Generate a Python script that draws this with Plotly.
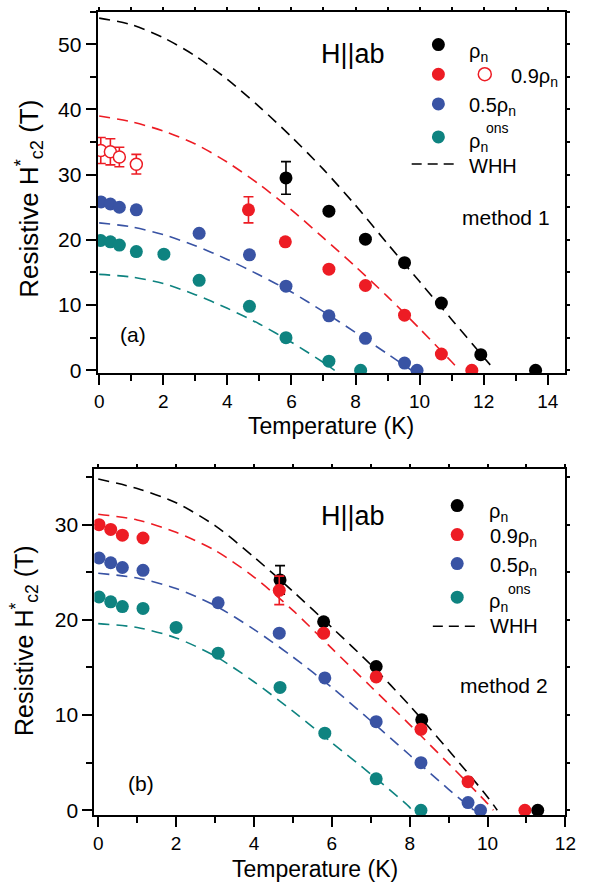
import plotly.graph_objects as go

# ---------------- data: panel (a), method 1 ----------------
T_rho_a = [5.83, 7.17, 8.31, 9.53, 10.68, 11.91, 13.62]
H_rho_a = [29.5, 24.4, 20.1, 16.5, 10.3, 2.4, 0.0]
E_rho_a = [2.5, None, None, None, None, None, None]

T_r09_a = [4.66, 5.81, 7.17, 8.31, 9.53, 10.68, 11.63]
H_r09_a = [24.6, 19.7, 15.5, 13.0, 8.45, 2.5, 0.0]
E_r09_a = [2.0, None, None, None, None, None, None]

T_r09open_a = [0.05, 0.35, 0.63, 1.16]
H_r09open_a = [33.7, 33.5, 32.7, 31.6]
E_r09open_a = [2.0, 2.0, 1.5, 1.5]

T_r05_a = [0.06, 0.35, 0.63, 1.16, 3.12, 4.69, 5.83, 7.17, 8.31, 9.53, 9.92]
H_r05_a = [25.8, 25.5, 25.0, 24.6, 21.0, 17.7, 12.9, 8.35, 4.9, 1.1, 0.0]

T_ons_a = [0.05, 0.35, 0.63, 1.16, 2.02, 3.12, 4.69, 5.83, 7.17, 8.16]
H_ons_a = [19.9, 19.7, 19.2, 18.2, 17.8, 13.8, 9.8, 5.0, 1.4, 0.0]

# WHH curves, panel (a)
T_whh_rho_a = [0, 1, 2, 3, 4, 5, 6, 7, 8, 9, 10, 11, 12, 12.35]
H_whh_rho_a = [54.0, 53.0, 51.0, 48.2, 44.6, 40.4, 35.8, 30.8, 25.3, 19.4, 13.6, 7.8, 2.0, 0.0]
T_whh_r09_a = [0, 1, 2, 3, 4, 5, 6, 7, 8, 9, 10, 11, 11.25]
H_whh_r09_a = [39.0, 38.1, 36.7, 34.7, 31.9, 28.5, 24.6, 20.3, 15.9, 11.3, 6.4, 1.3, 0.0]
T_whh_r05_a = [0, 1, 2, 3, 4, 5, 6, 7, 8, 9, 9.75]
H_whh_r05_a = [22.6, 22.0, 20.8, 19.1, 17.0, 14.6, 12.0, 9.0, 5.8, 2.5, 0.0]
T_whh_ons_a = [0, 1, 2, 3, 4, 5, 6, 7, 7.35]
H_whh_ons_a = [14.7, 14.3, 13.3, 11.6, 9.5, 7.1, 4.3, 1.2, 0.0]

# ---------------- data: panel (b), method 2 ----------------
T_rho_b = [4.67, 5.79, 7.14, 8.31, 11.29]
H_rho_b = [24.2, 19.8, 15.1, 9.5, 0.0]
E_rho_b = [1.5, None, None, None, None]

T_r09_b = [0.02, 0.32, 0.62, 1.15, 4.65, 5.79, 7.14, 8.29, 9.5, 10.96]
H_r09_b = [30.0, 29.5, 28.9, 28.6, 23.1, 18.6, 14.0, 8.5, 3.0, 0.0]
E_r09_b = [None, None, None, None, 1.5, None, None, None, None, None]

T_r05_b = [0.02, 0.32, 0.62, 1.15, 3.08, 4.65, 5.82, 7.14, 8.29, 9.5, 9.82]
H_r05_b = [26.5, 26.0, 25.5, 25.2, 21.8, 18.6, 13.9, 9.3, 5.0, 0.8, 0.0]

T_ons_b = [0.02, 0.32, 0.62, 1.15, 2.0, 3.08, 4.67, 5.82, 7.14, 8.29]
H_ons_b = [22.4, 21.9, 21.4, 21.2, 19.2, 16.5, 12.9, 8.1, 3.3, 0.0]

# WHH curves, panel (b)
T_whh_rho_b = [0, 1, 2, 3, 4, 5, 6, 7, 8, 9, 10, 10.25]
H_whh_rho_b = [34.8, 33.8, 32.3, 29.9, 26.6, 23.0, 19.2, 15.3, 11.0, 6.3, 1.4, 0.0]
T_whh_r09_b = [0, 1, 2, 3, 4, 5, 6, 7, 8, 9, 10, 10.15]
H_whh_r09_b = [31.1, 30.5, 29.2, 27.3, 24.5, 21.0, 17.0, 13.0, 9.0, 4.9, 0.7, 0.0]
T_whh_r05_b = [0, 1, 2, 3, 4, 5, 6, 7, 8, 9, 9.65]
H_whh_r05_b = [24.9, 24.4, 23.3, 21.5, 19.0, 16.1, 12.9, 9.4, 5.8, 2.2, 0.0]
T_whh_ons_b = [0, 1, 2, 3, 4, 5, 6, 7, 8, 8.05]
H_whh_ons_b = [19.6, 19.2, 18.1, 16.2, 13.5, 10.4, 7.1, 3.8, 0.3, 0.0]

# ---------------- styling ----------------
BLACK = "#000000"
RED = "#ED1C24"
BLUE = "#3953A4"
TEAL = "#0E8380"
FONT = "Liberation Sans, Arial, Helvetica, sans-serif"
MS = 13
W, HGT = 591, 891


def px(x):
    return x / W


def py(y):
    return 1 - y / HGT


fig = go.Figure()


def add_whh(T, H, color, xa, ya):
    fig.add_trace(go.Scatter(
        x=T, y=H, mode="lines", xaxis=xa, yaxis=ya,
        line=dict(color=color, width=1.6, dash="11px,7px", shape="spline", smoothing=0.8),
        showlegend=False, hoverinfo="skip"))


def add_pts(T, H, color, xa, ya, err=None, open_=False):
    marker = dict(size=MS, color=color, line=dict(width=0))
    if open_:
        marker = dict(size=MS - 1, color="white", line=dict(width=1.5, color=color))
    kw = {}
    if err is not None:
        kw["error_y"] = dict(type="data", array=err, visible=True, color=color,
                             thickness=1.6, width=5)
    fig.add_trace(go.Scatter(x=T, y=H, mode="markers", xaxis=xa, yaxis=ya,
                             marker=marker, showlegend=False, **kw))


# panel (a)
add_whh(T_whh_rho_a, H_whh_rho_a, BLACK, "x", "y")
add_whh(T_whh_r09_a, H_whh_r09_a, RED, "x", "y")
add_whh(T_whh_r05_a, H_whh_r05_a, BLUE, "x", "y")
add_whh(T_whh_ons_a, H_whh_ons_a, TEAL, "x", "y")
add_pts(T_rho_a, H_rho_a, BLACK, "x", "y", E_rho_a)
add_pts(T_r09_a, H_r09_a, RED, "x", "y", E_r09_a)
add_pts(T_r09open_a, H_r09open_a, RED, "x", "y", E_r09open_a, open_=True)
add_pts(T_r05_a, H_r05_a, BLUE, "x", "y")
add_pts(T_ons_a, H_ons_a, TEAL, "x", "y")

# panel (b)
add_whh(T_whh_rho_b, H_whh_rho_b, BLACK, "x2", "y2")
add_whh(T_whh_r09_b, H_whh_r09_b, RED, "x2", "y2")
add_whh(T_whh_r05_b, H_whh_r05_b, BLUE, "x2", "y2")
add_whh(T_whh_ons_b, H_whh_ons_b, TEAL, "x2", "y2")
add_pts(T_rho_b, H_rho_b, BLACK, "x2", "y2", E_rho_b)
add_pts(T_r09_b, H_r09_b, RED, "x2", "y2", E_r09_b)
add_pts(T_r05_b, H_r05_b, BLUE, "x2", "y2")
add_pts(T_ons_b, H_ons_b, TEAL, "x2", "y2")

# empty traces so the mirrored tick axes (top / right) get drawn
for xa, ya in (("x3", "y3"), ("x4", "y4")):
    fig.add_trace(go.Scatter(x=[], y=[], xaxis=xa, yaxis=ya, showlegend=False,
                             hoverinfo="skip"))

dom_a_x = [px(96), px(576)]
dom_a_y = [py(376.7), py(11.7)]
dom_b_x = [px(92.7), px(576)]
dom_b_y = [py(823.3), py(473.3)]
rng_a_x = [-0.05, 14.55]
rng_a_y = [-0.4, 55.0]
rng_b_x = [-0.1, 12.0]
rng_b_y = [-0.5, 35.9]


def main_axis(domain, rng, dtick, mdtick, anchor, size):
    return dict(domain=domain, range=rng, anchor=anchor, dtick=dtick, tick0=0,
                ticks="outside", ticklen=10, tickwidth=2, tickcolor="black",
                minor=dict(dtick=mdtick, ticks="outside", ticklen=6, tickwidth=2,
                           tickcolor="black", showgrid=False),
                showline=True, linewidth=2, linecolor="black", mirror=True,
                showgrid=False, zeroline=False,
                tickfont=dict(family=FONT, size=size, color="black"))


def mirror_axis(overlay, rng, dtick, side, anchor):
    return dict(overlaying=overlay, range=rng, side=side, anchor=anchor, dtick=dtick,
                tick0=0, ticks="outside", ticklen=4, tickwidth=2, tickcolor="black",
                showticklabels=False, showline=False, showgrid=False, zeroline=False)


fig.update_layout(
    width=W, height=HGT, autosize=False,
    margin=dict(l=0, r=0, t=0, b=0),
    paper_bgcolor="white", plot_bgcolor="white",
    showlegend=False,
    xaxis=main_axis(dom_a_x, rng_a_x, 2, 1, "y", 19),
    yaxis=main_axis(dom_a_y, rng_a_y, 10, 5, "x", 21),
    xaxis2=main_axis(dom_b_x, rng_b_x, 2, 1, "y2", 19),
    yaxis2=main_axis(dom_b_y, rng_b_y, 10, 5, "x2", 21),
    xaxis3=mirror_axis("x", rng_a_x, 1, "top", "y3"),
    yaxis3=mirror_axis("y", rng_a_y, 5, "right", "x3"),
    xaxis4=mirror_axis("x2", rng_b_x, 1, "top", "y4"),
    yaxis4=mirror_axis("y2", rng_b_y, 5, "right", "x4"),
)

annotations = []
shapes = []


def text(x, y, s, size, xanchor="left", angle=0, yanchor="middle"):
    annotations.append(dict(x=px(x), y=py(y), xref="paper", yref="paper", text=s,
                            showarrow=False, xanchor=xanchor, yanchor=yanchor,
                            textangle=angle,
                            font=dict(family=FONT, size=size, color="black")))


def dot(x, y, color, open_=False):
    r = MS / 2
    shapes.append(dict(type="circle", xref="paper", yref="paper",
                       xsizemode="pixel", ysizemode="pixel",
                       xanchor=px(x), yanchor=py(y), x0=-r, x1=r, y0=-r, y1=r,
                       fillcolor="white" if open_ else color,
                       line=dict(color=color, width=1.5 if open_ else 0)))


def dash_line(x0, x1, y):
    shapes.append(dict(type="line", xref="paper", yref="paper",
                       x0=px(x0), x1=px(x1), y0=py(y), y1=py(y),
                       line=dict(color="black", width=1.6, dash="10px,6px")))


RHO_N = "ρ<sub>n</sub>"

# axis titles
text(25.5, 201, "Resistive H<sup>*</sup><sub>c2</sub> (T)", 26, xanchor="center", angle=-90)
text(21, 647, "Resistive H<sup>*</sup><sub>c2</sub> (T)", 25, xanchor="center", angle=-90)
text(335.5, 430, "Temperature (K)", 23, xanchor="center")
text(319, 878, "Temperature (K)", 23, xanchor="center")

# panel (a) labels and key
text(322.7, 55, "H||ab", 27)
text(468, 220, "method 1", 21)
text(116.7, 337.5, "(a)", 21)
dot(445.7, 45, BLACK)
text(475, 53, RHO_N, 20)
dot(445.7, 75, RED)
dot(493.3, 75, RED, open_=True)
text(518.3, 78, "0.9" + RHO_N, 20)
dot(445.7, 105, BLUE)
text(475, 108, "0.5" + RHO_N, 20)
dot(445.7, 138.3, TEAL)
text(475, 144, RHO_N, 20)
text(493, 129, "ons", 14)
dash_line(418.3, 463.3, 165.7)
text(475, 167.5, "WHH", 20)

# panel (b) labels and key
text(322.7, 521, "H||ab", 27)
text(466, 692, "method 2", 21)
text(125, 791, "(b)", 21)
dot(465, 510.7, BLACK)
text(496, 518, RHO_N, 20)
dot(465, 540, RED)
text(496.7, 543, "0.9" + RHO_N, 20)
dot(465, 569.3, BLUE)
text(496.7, 572, "0.5" + RHO_N, 20)
dot(465, 603.3, TEAL)
text(496, 609, RHO_N, 20)
text(515, 595, "ons", 14)
dash_line(440, 485, 632.7)
text(496.7, 632.5, "WHH", 20)

fig.update_layout(annotations=annotations, shapes=shapes)

# page without body margin or scrollbars so the figure sits at the window origin
fig.write_html(
    "out.html",
    post_script=(
        "document.documentElement.style.margin='0';"
        "document.documentElement.style.overflow='hidden';"
        "document.body.style.margin='0';"
        "document.body.style.overflow='hidden';"
    ),
)
